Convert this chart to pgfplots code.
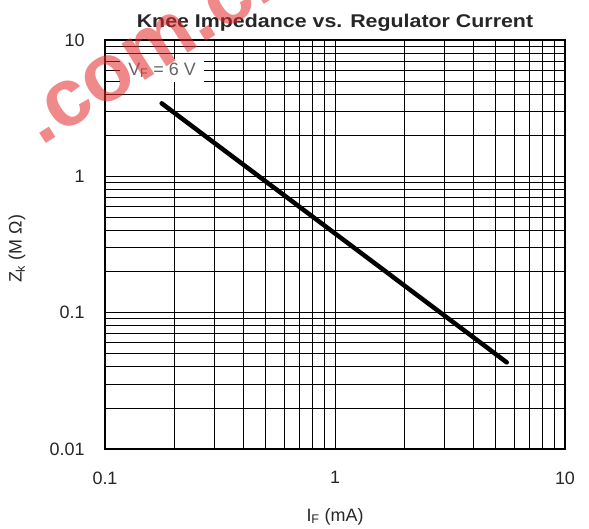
\documentclass[border=0pt]{standalone}
\usepackage{pgfplots}
\pgfplotsset{compat=1.18}
\usepackage{fontspec}
\setmainfont{Liberation Sans}
\definecolor{wm}{RGB}{228,40,40}
\begin{document}
\begin{tikzpicture}
\path[use as bounding box] (-105bp,-80bp) rectangle (484bp,449bp);
\begin{axis}[
  anchor=south west, at={(0,0)},
  scale only axis, width=460bp, height=409bp,
  xmode=log, ymode=log,
  xmin=0.1, xmax=10, ymin=0.01, ymax=10,
  xtick={0.1,1,10}, xticklabels={0.1,1,10},
  ytick={0.01,0.1,1,10}, yticklabels={0.01,0.1,1,10},
  grid=both,
  major grid style={black, line width=0.9bp},
  minor grid style={black, line width=0.9bp},
  axis line style={black, line width=1.1bp},
  major tick length=0pt, minor tick length=0pt,
  tick label style={font=\fontsize{18}{20}\selectfont, text=black!85},
  xticklabel style={yshift=-19bp},
  yticklabel style={xshift=-17bp},
  /pgf/number format/assume math mode=true,
  clip=false,
]
\addplot[black, line width=4.5bp, line cap=round] coordinates {(0.1764,3.43) (5.58,0.0432)};
\node[fill=white, text=black!60, inner xsep=8bp, inner ysep=4bp, font=\fontsize{18}{20}\selectfont] at (axis cs:0.177,6.0) {V\textsubscript{F} = 6 V};
\node[anchor=base, font=\bfseries\fontsize{18.5}{20}\selectfont, xscale=1.16, text=black!85] at (rel axis cs:0.5,1) [yshift=12.5bp] {Knee Impedance vs. Regulator Current};
\node[anchor=base, font=\fontsize{18}{20}\selectfont, text=black!85] at (rel axis cs:0.5,0) [yshift=-72bp] {I\textsubscript{F} (mA)};
\end{axis}
\node[rotate=90, font=\fontsize{18}{20}\selectfont, text=black!85] at (-88bp,200bp) {Z\textsubscript{k} (M Ω)};
\node[rotate=32.5, anchor=base west, inner sep=0pt, text=wm, opacity=0.55, font=\bfseries\fontsize{82}{82}\selectfont] at (-64bp,302bp) {.com.cn};
\end{tikzpicture}
\end{document}
